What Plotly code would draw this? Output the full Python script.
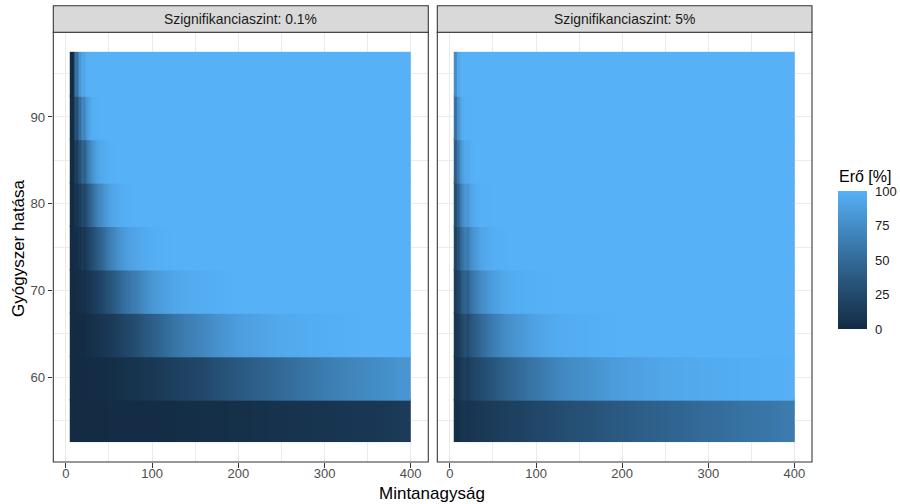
import plotly.graph_objects as go

# ---------------- data ----------------
sample_size = [5, 6, 7, 8, 9, 10, 11, 12, 13, 14, 16, 18, 20, 23, 26, 30, 35, 40,
               50, 60, 70, 80, 100, 125, 150, 200, 250, 300, 350, 400]
drug_effect = [55, 60, 65, 70, 75, 80, 85, 90, 95]
panel_labels = ["Szignifikanciaszint: 0.1%", "Szignifikanciaszint: 5%"]
legend_ticks = [0, 25, 50, 75, 100]

power_alpha_01 = [
    [0, 0, 0, 0, 0, 0.3, 0.1, 0.1, 0, 0.3, 0.1, 0.2, 0, 0, 0, 0, 0, 0, 1, 1, 1, 1, 1, 2, 3, 4, 6, 8, 10, 13],
    [0, 0, 0, 0, 0, 0.6, 0.4, 0.2, 0.1, 0.8, 0.3, 1, 0.3, 1, 1, 1, 2, 2, 3, 4, 6, 7, 11, 17, 23, 37, 50, 63, 73, 81],
    [0, 0, 0, 0, 0, 1.3, 0.9, 0.6, 0.4, 2, 1, 2, 1, 3, 3, 4, 6, 8, 12, 17, 23, 29, 42, 57, 70, 87, 95, 98, 100, 100],
    [0, 0, 0, 0, 0, 2.8, 2, 1.4, 1, 4.7, 2.6, 6, 4, 7, 9, 12, 17, 22, 33, 45, 56, 66, 83, 93, 97, 100, 100, 100, 100, 100],
    [0, 0, 0, 0, 0, 5.6, 4.2, 3.2, 2.4, 10, 6, 13, 9, 15, 20, 27, 36, 46, 64, 78, 87, 93, 98, 100, 100, 100, 100, 100, 100, 100],
    [0, 0, 0, 0, 0, 10.7, 8.6, 6.9, 5.5, 20, 14, 27, 21, 30, 39, 51, 64, 75, 90, 96, 99, 100, 100, 100, 100, 100, 100, 100, 100, 100],
    [0, 0, 0, 0, 0, 19.7, 16.7, 14.2, 12.1, 36, 28, 48, 40, 53, 65, 78, 89, 95, 99, 100, 100, 100, 100, 100, 100, 100, 100, 100, 100, 100],
    [0, 0, 0, 0, 0, 34.9, 31.4, 28.2, 25.4, 58, 51, 73, 68, 81, 91, 97, 99, 100, 100, 100, 100, 100, 100, 100, 100, 100, 100, 100, 100, 100],
    [0, 0, 0, 0, 0, 59.9, 56.9, 54, 51.3, 85, 81, 94, 92, 99, 100, 100, 100, 100, 100, 100, 100, 100, 100, 100, 100, 100, 100, 100, 100, 100],
]

power_alpha_5 = [
    [5, 3, 2, 6, 4, 2, 7, 4, 9, 6, 9, 11, 6, 8, 9, 10, 11, 12, 14, 16, 18, 19, 23, 27, 31, 38, 45, 51, 57, 62],
    [8, 5, 3, 11, 7, 5, 12, 8, 17, 12, 17, 21, 13, 18, 20, 23, 26, 29, 35, 41, 46, 51, 60, 70, 77, 87, 93, 96, 98, 99],
    [12, 8, 5, 17, 12, 9, 20, 15, 28, 22, 28, 35, 24, 33, 37, 42, 48, 54, 64, 72, 78, 83, 91, 96, 98, 100, 100, 100, 100, 100],
    [17, 12, 8, 26, 20, 15, 31, 25, 42, 36, 43, 52, 40, 53, 59, 65, 73, 79, 87, 93, 96, 98, 99, 100, 100, 100, 100, 100, 100, 100],
    [24, 18, 13, 37, 30, 24, 46, 39, 58, 52, 61, 71, 60, 73, 79, 85, 91, 94, 98, 99, 100, 100, 100, 100, 100, 100, 100, 100, 100, 100],
    [33, 26, 21, 50, 44, 38, 62, 56, 75, 70, 79, 87, 80, 90, 94, 97, 99, 99, 100, 100, 100, 100, 100, 100, 100, 100, 100, 100, 100, 100],
    [44, 38, 32, 66, 60, 54, 78, 74, 88, 85, 93, 97, 94, 98, 99, 100, 100, 100, 100, 100, 100, 100, 100, 100, 100, 100, 100, 100, 100, 100],
    [59, 53, 48, 81, 77, 74, 91, 89, 97, 96, 99, 100, 99, 100, 100, 100, 100, 100, 100, 100, 100, 100, 100, 100, 100, 100, 100, 100, 100, 100],
    [77, 74, 70, 94, 93, 91, 98, 98, 100, 100, 100, 100, 100, 100, 100, 100, 100, 100, 100, 100, 100, 100, 100, 100, 100, 100, 100, 100, 100, 100],
]

# ---------------- colour scale (ggplot default gradient, Lab interpolation) ----------------
def hex_to_rgb(h):
    h = h.lstrip("#")
    return [int(h[i:i + 2], 16) / 255 for i in (0, 2, 4)]

def srgb_to_lin(c):
    return c / 12.92 if c <= 0.04045 else ((c + 0.055) / 1.055) ** 2.4

def lin_to_srgb(c):
    c = max(0.0, min(1.0, c))
    return 12.92 * c if c <= 0.0031308 else 1.055 * c ** (1 / 2.4) - 0.055

WHITE = (0.95047, 1.0, 1.08883)

def rgb_to_lab(rgb):
    r, g, b = [srgb_to_lin(c) for c in rgb]
    X = 0.4124 * r + 0.3576 * g + 0.1805 * b
    Y = 0.2126 * r + 0.7152 * g + 0.0722 * b
    Z = 0.0193 * r + 0.1192 * g + 0.9505 * b
    def f(t):
        return t ** (1 / 3) if t > 216 / 24389 else (24389 / 27 * t + 16) / 116
    fx, fy, fz = f(X / WHITE[0]), f(Y / WHITE[1]), f(Z / WHITE[2])
    return (116 * fy - 16, 500 * (fx - fy), 200 * (fy - fz))

def lab_to_rgb(lab):
    L, a, bb = lab
    fy = (L + 16) / 116
    fx = fy + a / 500
    fz = fy - bb / 200
    def finv(t):
        return t ** 3 if t ** 3 > 216 / 24389 else (116 * t - 16) / (24389 / 27)
    X, Y, Z = finv(fx) * WHITE[0], finv(fy) * WHITE[1], finv(fz) * WHITE[2]
    r = 3.2406 * X - 1.5372 * Y - 0.4986 * Z
    g = -0.9689 * X + 1.8758 * Y + 0.0415 * Z
    b = 0.0557 * X - 0.2040 * Y + 1.0570 * Z
    return "#%02x%02x%02x" % tuple(int(round(lin_to_srgb(c) * 255)) for c in (r, g, b))

low_lab = rgb_to_lab(hex_to_rgb("#132B43"))
high_lab = rgb_to_lab(hex_to_rgb("#56B1F7"))
colorscale = []
for i in range(21):
    t = i / 20
    lab = tuple(low_lab[k] + t * (high_lab[k] - low_lab[k]) for k in range(3))
    colorscale.append([t, lab_to_rgb(lab)])

# ---------------- cell edges ----------------
x_edges = [sample_size[0] - 0.5]
for a, b in zip(sample_size[:-1], sample_size[1:]):
    x_edges.append((a + b) / 2)
x_edges.append(sample_size[-1] + 0.5)

FONT = "Liberation Sans, Arial, Helvetica, sans-serif"
W, H = 900, 504
ROW_OVERLAP = 0.15  # tiny overlap so neighbouring row images leave no hairline gap

fig = go.Figure()
for axx, axy, table in (("x", "y", power_alpha_01), ("x2", "y2", power_alpha_5)):
    for k, (eff, row) in enumerate(zip(drug_effect, table)):
        lo = eff - 2.5 - (ROW_OVERLAP if k > 0 else 0)
        fig.add_trace(go.Heatmap(
            x=x_edges, y=[lo, eff, eff + 2.5], z=[row, row],
            zsmooth="best", coloraxis="coloraxis", xaxis=axx, yaxis=axy, hoverinfo="skip"))

py_bottom, py_top = 1 - 462 / H, 1 - 32.3 / H
strip_top = 1 - 5.7 / H
dom1 = [53.3 / W, 428.3 / W]
dom2 = [437.3 / W, 812 / W]

grid_col = "#EBEBEB"
common_x = dict(range=[-14.6, 420.4], tickvals=[0, 100, 200, 300, 400],
                showgrid=True, gridcolor=grid_col, gridwidth=1.07,
                minor=dict(dtick=50, tick0=0, showgrid=True, gridcolor=grid_col, gridwidth=0.55),
                ticks="outside", ticklen=4.5, tickwidth=1.07, tickcolor="#333333",
                ticklabelstandoff=-5,
                tickfont=dict(size=13, color="#4D4D4D", family=FONT),
                zeroline=False, showline=False, automargin=False, fixedrange=True)
common_y = dict(range=[50.25, 99.75], tickvals=[60, 70, 80, 90],
                showgrid=True, gridcolor=grid_col, gridwidth=1.07,
                minor=dict(dtick=5, tick0=55, showgrid=True, gridcolor=grid_col, gridwidth=0.55),
                zeroline=False, showline=False, automargin=False, fixedrange=True,
                domain=[py_bottom, py_top])

bar_top, bar_bot = 191, 329
bar_left, bar_right = 838, 867

fig.update_layout(
    width=W, height=H,
    margin=dict(l=0, r=0, t=0, b=0),
    paper_bgcolor="white", plot_bgcolor="white",
    font=dict(family=FONT, color="#1A1A1A"),
    xaxis=dict(domain=dom1, anchor="y", **common_x),
    xaxis2=dict(domain=dom2, anchor="y2", **common_x),
    yaxis=dict(anchor="x", ticks="outside", ticklen=4.5, tickwidth=1.07, tickcolor="#333333",
               ticklabelstandoff=0,
               tickfont=dict(size=13.2, color="#4D4D4D", family=FONT), **common_y),
    yaxis2=dict(anchor="x2", showticklabels=False, ticks="", **common_y),
    coloraxis=dict(
        cmin=0, cmax=100, colorscale=colorscale,
        colorbar=dict(
            x=bar_left / W, xanchor="left", y=1 - (bar_top + bar_bot) / 2 / H, yanchor="middle",
            len=bar_bot - bar_top, lenmode="pixels", thickness=bar_right - bar_left, thicknessmode="pixels",
            tickvals=legend_ticks, ticks="outside", ticklen=6, tickcolor="rgba(0,0,0,0)",
            tickwidth=1, tickfont=dict(size=13, color="#1A1A1A", family=FONT),
            outlinewidth=0, xpad=0, ypad=0,
        ),
    ),
    showlegend=False,
)

shapes = []
annotations = []
for i, ax in enumerate(["x", "x2"]):
    ya = "y" if ax == "x" else "y2"
    shapes.append(dict(type="rect", xref=f"{ax} domain", yref=f"{ya} domain", x0=0, x1=1, y0=0, y1=1,
                       line=dict(color="#333333", width=1.07), fillcolor="rgba(0,0,0,0)", layer="above"))
    shapes.append(dict(type="rect", xref=f"{ax} domain", yref="paper", x0=0, x1=1, y0=py_top, y1=strip_top,
                       line=dict(color="#333333", width=1.07), fillcolor="#D9D9D9", layer="above"))
    annotations.append(dict(text=panel_labels[i], xref=f"{ax} domain", yref="paper", x=0.5,
                            y=(py_top + strip_top) / 2, showarrow=False, xanchor="center", yanchor="middle",
                            font=dict(size=13.9, color="#1A1A1A", family=FONT)))

# white ticks on both edges of the colour bar (ggplot style)
for v in legend_ticks:
    yp = 1 - (bar_bot - (bar_bot - bar_top) * v / 100) / H
    for x0, x1 in ((bar_left, bar_left + 5), (bar_right - 5, bar_right)):
        shapes.append(dict(type="line", xref="paper", yref="paper", x0=x0 / W, x1=x1 / W,
                           y0=yp, y1=yp, line=dict(color="white", width=1), layer="above"))

annotations.append(dict(text="Erő [%]", xref="paper", yref="paper", x=(bar_left - 1) / W, y=1 - 176 / H,
                        showarrow=False, xanchor="left", yanchor="middle",
                        font=dict(size=16, color="#000000", family=FONT)))
annotations.append(dict(text="Mintanagyság", xref="paper", yref="paper", x=432 / W, y=1 - 493 / H,
                        showarrow=False, xanchor="center", yanchor="middle",
                        font=dict(size=17, color="#000000", family=FONT)))
annotations.append(dict(text="Gyógyszer hatása", xref="paper", yref="paper", x=18 / W, y=1 - 248 / H,
                        showarrow=False, xanchor="center", yanchor="middle", textangle=-90,
                        font=dict(size=17, color="#000000", family=FONT)))

fig.update_layout(shapes=shapes, annotations=annotations)
fig.write_html("out.html", config={"displayModeBar": False},
               post_script="document.body.style.margin='0px';")
